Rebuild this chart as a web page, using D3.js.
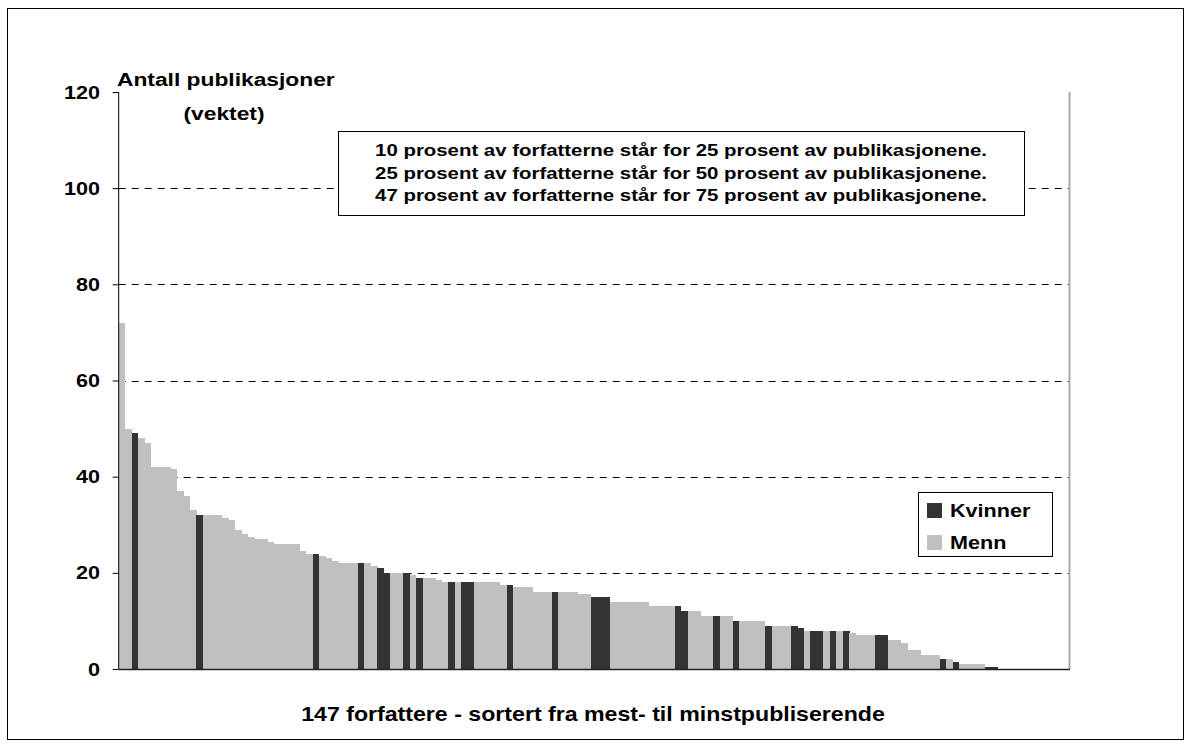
<!DOCTYPE html>
<html><head><meta charset="utf-8">
<script src="https://cdn.jsdelivr.net/npm/d3@7"></script>
<style>
body{margin:0;background:#fff}
text{font-family:Arial,"Liberation Sans",sans-serif;font-weight:bold;fill:#000}
</style>
</head><body>
<svg id="c" width="1191" height="745"></svg>
<script>
// ---- data ----
const authors = d3.range(1, 148); // rank 1..147
const values = [72,50,49,48,47,42,42,42,41.5,37,
  36,33,32,32,32,32,31.5,31,29,28,
  27.5,27,27,26.5,26,26,26,26,24.5,24,
  24,23.5,23,22.5,22,22,22,22,22,21.5,
  21,20,20,20,20,19.5,19,19,19,18.5,
  18,18,18,18,18,18,18,18,18,17.5,
  17.5,17,17,17,16,16,16,16,16,16,
  16,15.5,15.5,15,15,15,14,14,14,14,
  14,14,13,13,13,13,13,12,12,12,
  11,11,11,11,11,10,10,10,10,10,
  9,9,9,9,9,8.5,8,8,8,8,
  8,8,8,7.5,7,7,7,7,7,6,
  6,5.5,4,4,3,3,3,2,2,1.5,
  1,1,1,1,0.5,0.5,0,0,0,0,
  0,0,0,0,0,0,0];
const kvinnerRanks = [3,13,31,38,41,42,45,47,52,54,55,61,68,74,75,76,87,88,93,96,101,105,106,108,109,111,113,118,119,128,130,135,136];
const yTicks = [0,20,40,60,80,100,120];
const legendLabels = ["Kvinner","Menn"];
const noteLines = [
  "10 prosent av forfatterne står for 25 prosent av publikasjonene.",
  "25 prosent av forfatterne står for 50 prosent av publikasjonene.",
  "47 prosent av forfatterne står for 75 prosent av publikasjonene."
];
const yTitle = ["Antall publikasjoner","(vektet)"];
const xTitle = "147 forfattere - sortert fra mest- til minstpubliserende";

const colors = {Kvinner:"#333333", Menn:"#C0C0C0"};
const data = authors.map((a,i)=>({rank:a, value:values[i], sex: kvinnerRanks.includes(a) ? "Kvinner" : "Menn"}));

// ---- layout ----
const svg = d3.select("#c");
const L = 118.7, R = 1069, T = 92, B = 669;
const x = d3.scaleBand().domain(authors).range([L, R]).padding(0);
const y = d3.scaleLinear().domain([0,120]).range([B, T]);
const SX = 1.2;
function stext(g, px, py, str, size, anchor){
  return g.append("text")
    .attr("transform", `translate(${px},${py}) scale(${SX},1)`)
    .attr("text-anchor", anchor)
    .style("font-size", size+"px")
    .text(str);
}

// outer border
svg.append("rect").attr("x",7.5).attr("y",8.5).attr("width",1176).attr("height",731)
  .attr("fill","none").attr("stroke","#000").attr("stroke-width",1);

// gridlines
svg.append("g").selectAll("line").data(yTicks.filter(t=>t>0 && t<120)).join("line")
  .attr("x1",L).attr("x2",R).attr("y1",d=>Math.round(y(d))+0.5).attr("y2",d=>Math.round(y(d))+0.5)
  .attr("stroke","#000").attr("stroke-dasharray","7,6").attr("stroke-width",1);

// bars
svg.append("g").attr("shape-rendering","crispEdges").selectAll("rect").data(data).join("rect")
  .attr("x",d=>x(d.rank)).attr("width",x.bandwidth()+0.3)
  .attr("y",d=>y(d.value)).attr("height",d=>B - y(d.value))
  .attr("fill",d=>colors[d.sex]);

// plot right border
svg.append("line").attr("x1",R+0.5).attr("x2",R+0.5).attr("y1",T).attr("y2",B)
  .attr("stroke","#A8A8A8").attr("stroke-width",2);

// axes
const yAxis = d3.axisLeft(y).tickValues(yTicks).tickSize(6).tickFormat("");
const ga = svg.append("g").attr("transform",`translate(${L},0)`).call(yAxis);
ga.select(".domain").attr("d",`M0,${T}V${B}`).attr("stroke","#000");
ga.selectAll(".tick line").attr("stroke","#000");
const gt = svg.append("g");
yTicks.forEach(t=> stext(gt, 100, y(t)+6.5, d3.format("d")(t), 18, "end"));
svg.append("line").attr("x1",L).attr("x2",R+1).attr("y1",B+0.5).attr("y2",B+0.5)
  .attr("stroke","#222").attr("stroke-width",1.5);

// axis titles
stext(svg, 117, 86, yTitle[0], 19, "start");
stext(svg, 224, 120, yTitle[1], 19, "middle");
stext(svg, 593, 721, xTitle, 19.3, "middle");

// note box
svg.append("rect").attr("x",338.5).attr("y",131.5).attr("width",686).attr("height",84)
  .attr("fill","#fff").attr("stroke","#000");
noteLines.forEach((s,i)=> stext(svg, 681, 156 + i*22.7, s, 17, "middle"));

// legend
const lg = svg.append("g");
lg.append("rect").attr("x",918.5).attr("y",492.5).attr("width",134).attr("height",64)
  .attr("fill","#fff").attr("stroke","#000");
legendLabels.forEach((lab,i)=>{
  lg.append("rect").attr("x",927).attr("y",503 + i*32).attr("width",15).attr("height",15).attr("fill",colors[lab]);
  stext(lg, 950, 517 + i*32, lab, 18, "start");
});
</script>
</body></html>
